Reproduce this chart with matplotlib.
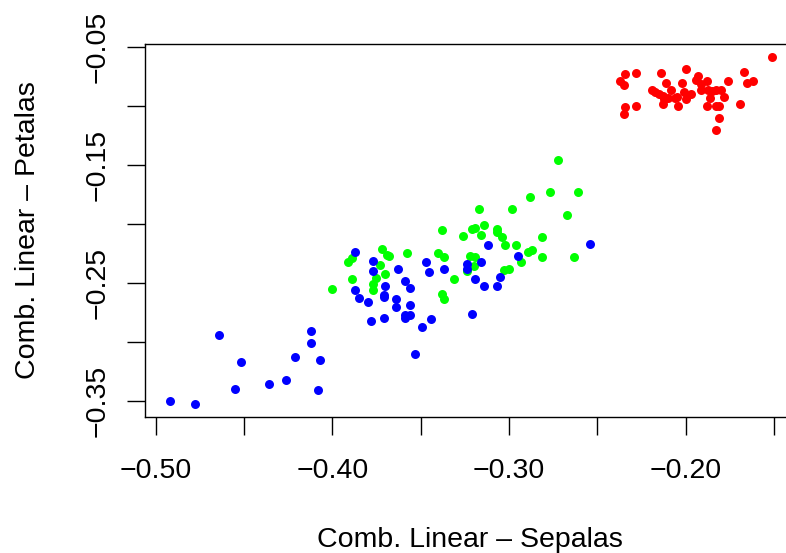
import numpy as np
import matplotlib
matplotlib.use("Agg")
import matplotlib.pyplot as plt

# red group
red_x = [-0.234, -0.228, -0.237, -0.235, -0.214, -0.200, -0.193, -0.194, -0.211, -0.202,
         -0.219, -0.217, -0.213, -0.212, -0.208, -0.206, -0.201, -0.200, -0.213, -0.204,
         -0.234, -0.235, -0.228, -0.210, -0.215, -0.151, -0.191, -0.188, -0.176, -0.167,
         -0.165, -0.162, -0.187, -0.183, -0.180, -0.178, -0.186, -0.188, -0.183, -0.181,
         -0.169, -0.181, -0.183, -0.185, -0.197, -0.191, -0.205]
red_y = [-0.073, -0.072, -0.079, -0.082, -0.072, -0.068, -0.074, -0.078, -0.080, -0.080,
         -0.086, -0.088, -0.091, -0.094, -0.086, -0.093, -0.088, -0.094, -0.098, -0.100,
         -0.101, -0.107, -0.100, -0.093, -0.090, -0.058, -0.081, -0.079, -0.079, -0.071,
         -0.080, -0.079, -0.086, -0.086, -0.086, -0.092, -0.093, -0.100, -0.100, -0.100,
         -0.098, -0.110, -0.120, -0.087, -0.090, -0.086, -0.092]

# green group
green_x = [-0.272, -0.288, -0.277, -0.261, -0.267, -0.317, -0.298, -0.338, -0.326, -0.321,
           -0.319, -0.314, -0.316, -0.307, -0.307, -0.304, -0.302, -0.296, -0.281, -0.289,
           -0.287, -0.293, -0.281, -0.263, -0.303, -0.300, -0.322, -0.319, -0.320, -0.324,
           -0.331, -0.338, -0.337, -0.340, -0.337, -0.358, -0.372, -0.369, -0.368, -0.373,
           -0.370, -0.375, -0.377, -0.377, -0.389, -0.391, -0.389, -0.400]
green_y = [-0.146, -0.177, -0.173, -0.173, -0.192, -0.187, -0.187, -0.205, -0.210, -0.204,
           -0.203, -0.201, -0.209, -0.204, -0.207, -0.211, -0.218, -0.218, -0.211, -0.224,
           -0.222, -0.232, -0.228, -0.228, -0.239, -0.238, -0.227, -0.228, -0.236, -0.240,
           -0.247, -0.259, -0.264, -0.225, -0.228, -0.225, -0.221, -0.226, -0.227, -0.235,
           -0.242, -0.246, -0.251, -0.256, -0.247, -0.232, -0.229, -0.255]

# blue group
blue_x = [-0.492, -0.478, -0.464, -0.455, -0.452, -0.436, -0.426, -0.421, -0.412, -0.412,
          -0.408, -0.407, -0.387, -0.387, -0.385, -0.380, -0.378, -0.377, -0.377, -0.371,
          -0.371, -0.371, -0.370, -0.364, -0.364, -0.363, -0.359, -0.359, -0.359, -0.356,
          -0.356, -0.356, -0.353, -0.349, -0.347, -0.345, -0.344, -0.337, -0.324, -0.324,
          -0.321, -0.319, -0.316, -0.314, -0.312, -0.307, -0.305, -0.295, -0.254]
blue_y = [-0.350, -0.353, -0.294, -0.340, -0.317, -0.336, -0.332, -0.313, -0.291, -0.301,
          -0.341, -0.315, -0.224, -0.256, -0.263, -0.266, -0.282, -0.231, -0.240, -0.260,
          -0.262, -0.280, -0.253, -0.264, -0.270, -0.238, -0.248, -0.277, -0.280, -0.254,
          -0.269, -0.277, -0.310, -0.287, -0.232, -0.241, -0.281, -0.238, -0.234, -0.238,
          -0.276, -0.247, -0.232, -0.253, -0.218, -0.253, -0.245, -0.227, -0.217]

x_ticks = [-0.50, -0.45, -0.40, -0.35, -0.30, -0.25, -0.20, -0.15]
x_labeled = [-0.50, -0.40, -0.30, -0.20]
y_ticks = [-0.35, -0.30, -0.25, -0.20, -0.15, -0.10, -0.05]
y_labeled = [-0.35, -0.25, -0.15, -0.05]

plt.rcParams['font.family'] = ['Liberation Sans', 'DejaVu Sans']

fig = plt.figure(figsize=(7.86, 5.53), dpi=100)
ax = fig.add_axes([0.1849, 0.2459, 0.8270, 0.6745])

ms = 42
ax.scatter(red_x, red_y, s=ms, c='#ff0000', linewidths=0)
ax.scatter(green_x, green_y, s=ms, c='#00ff00', linewidths=0)
ax.scatter(blue_x, blue_y, s=ms, c='#0000ff', linewidths=0)

ax.set_xlim(-0.5059, -0.1378)
ax.set_ylim(-0.3638, -0.0472)

def fmt(v, shown):
    if any(abs(v - s) < 1e-9 for s in shown):
        return '\u2212%.2f' % abs(v)
    return ''

ax.set_xticks(x_ticks)
ax.set_xticklabels([fmt(v, x_labeled) for v in x_ticks], fontsize=20.5)
ax.set_yticks(y_ticks)
ax.set_yticklabels([fmt(v, y_labeled) for v in y_ticks], fontsize=20.5,
                   rotation=90, va='center')

ax.tick_params(axis='both', direction='out', length=13, width=1.0, color='black')
ax.tick_params(axis='x', pad=16.5)
ax.tick_params(axis='y', pad=12)
for sp in ax.spines.values():
    sp.set_linewidth(1.0)

ax.set_xlabel('Comb. Linear \u2013 Sepalas', fontsize=20.5, labelpad=31)
ax.set_ylabel('Comb. Linear \u2013 Petalas', fontsize=20.5, labelpad=31.5)

fig.savefig('out.png', dpi=100)
plt.close(fig)
